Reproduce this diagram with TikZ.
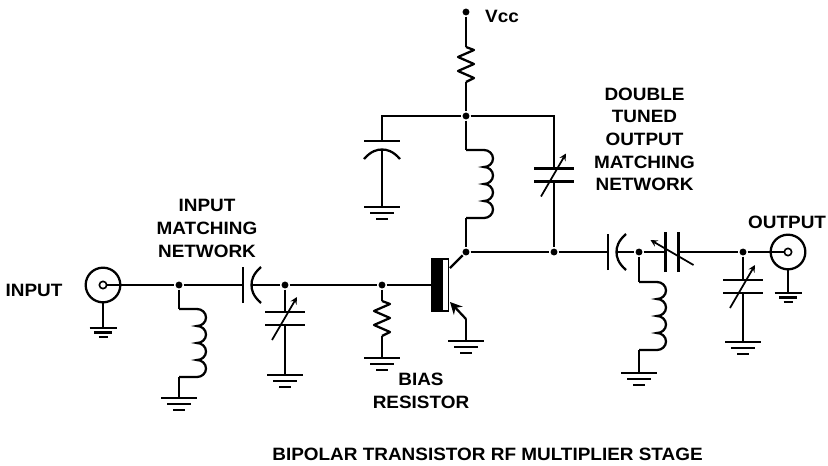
\documentclass[tikz,border=0pt]{standalone}
\usepackage{fontspec}
\setmainfont[FakeStretch=1.06]{Liberation Sans}
\usetikzlibrary{arrows,arrows.meta,calc,positioning}

\begin{document}
\begin{tikzpicture}[
  x=0.75pt, y=-0.75pt,
  line width=1.7pt,
  dot/.style={circle, fill=black, inner sep=0pt, minimum size=5.2pt},
  lab/.style={font=\bfseries\fontsize{13.4}{17}\selectfont, align=center, inner sep=0pt},
  jack/.style={circle, draw, inner sep=0pt, minimum size=26pt},
  jackpin/.style={circle, draw, line width=1.2pt, inner sep=0pt, minimum size=5.5pt},
  bar/.style={rectangle, draw, inner sep=0pt, outer sep=0pt, line width=1pt, minimum height=39pt},
  tune/.style={-stealth, line width=1.3pt},
  pics/gnd/.style={code={
    \coordinate (-top) at (0,0);
    \draw (-18,0) -- (18,0);
    \draw (-12,6) -- (12,6);
    \draw (-6,12) -- (6,12);
  }},
  pics/res/.style={code={
    \coordinate (-in) at (0,0);
    \coordinate (-out) at (0,35);
    \draw[line join=round] (0,0) -- (8,3) -- (-8,10) -- (8,17) -- (-8,24) -- (8,31) -- (0,35);
  }},
  pics/ind/.style={code={
    \coordinate (-in) at (0,0);
    \coordinate (-out) at (0,68);
    \draw (0,0) -- (18,0)
      arc[start angle=-90, end angle=90, x radius=9, y radius=8.5]
      arc[start angle=-90, end angle=90, x radius=9, y radius=8.5]
      arc[start angle=-90, end angle=90, x radius=9, y radius=8.5]
      arc[start angle=-90, end angle=90, x radius=9, y radius=8.5] -- (0,68);
  }},
  pics/fixcap/.style={code={
    \coordinate (-flat) at (0,0);
    \coordinate (-arc) at (0,8.5);
    \draw (-18,0) -- (18,0);
    \draw (-18,18) .. controls (-11,10) and (-5,8.5) .. (0,8.5) .. controls (5,8.5) and (11,10) .. (18,18);
  }},
  pics/varcap/.style={code={
    \coordinate (-top) at (0,-6.5);
    \coordinate (-bot) at (0,6.5);
    \draw (-20,-6.5) -- (20,-6.5);
    \draw (-20,6.5) -- (20,6.5);
    \draw[tune] (-13,21.5) -- (12,-21.5);
  }}
]
\useasboundingbox (0,0) rectangle (828,465);

% Junctions
\node[dot] (vcc) at (466,12) {};
\node[dot] (j1) at (179,285) {};
\node[dot] (j2) at (285,285) {};
\node[dot] (j3) at (382,285) {};
\node[dot] (j4) at (466,116) {};
\node[dot] (j5) at (466,252) {};
\node[dot] (j6) at (554,252) {};
\node[dot] (j7) at (639,252) {};
\node[dot] (j8) at (743,252) {};

% Input and output jacks
\node[jack] (injack) at (103,285) {};
\node[jackpin] (inpin) at (103,285) {};
\node[jack] (outjack) at (788,252) {};
\node[jackpin] (outpin) at (788,252) {};

% Transistor
\node[bar, fill=black, minimum width=7.5pt] (basebar) at (437,285) {};
\node[bar, fill=white, right=0pt of basebar, minimum width=5pt] (collbar) {};
\coordinate (cpin) at (450,268);
\coordinate (epin) at (450,302);
\coordinate (ebend) at (466,319);

% Components
\pic (lin) at (179,309) {ind};
\pic[rotate=90] (cin) at (243,285) {fixcap};
\pic (cv1) at (285,318.5) {varcap};
\pic (rb) at (382,301) {res};
\pic (rc) at (466,47) {res};
\pic (cby) at (382,141) {fixcap};
\pic (lc) at (466,150) {ind};
\pic (cv2) at (554,175) {varcap};
\pic[rotate=90] (cout) at (608,252) {fixcap};
\pic[rotate=90] (cv3) at (672,252) {varcap};
\pic (lout) at (639,282) {ind};
\pic (cv4) at (743,286.5) {varcap};

% Grounds
\pic[scale=0.75] (g1) at (103,328) {gnd};
\pic (g2) at (179,398) {gnd};
\pic (g3) at (285,375) {gnd};
\pic (g4) at (382,358) {gnd};
\pic (g5) at (382,207) {gnd};
\pic (g6) at (466,341) {gnd};
\pic (g7) at (639,373) {gnd};
\pic (g8) at (743,342) {gnd};
\pic[scale=0.75] (g9) at (788,293) {gnd};

% Wires - input side
\draw (inpin) -- (j1);
\draw (j1) -- (cin-flat);
\draw (cin-arc) -- (j2);
\draw (j2) -- (j3);
\draw (j3) -- (basebar.west);
\draw (injack) -- (g1-top);
\draw (j1) -- (lin-in);
\draw (lin-out) -- (g2-top);
\draw (j2) -- (cv1-top);
\draw (cv1-bot) -- (g3-top);
\draw (j3) -- (rb-in);
\draw (rb-out) -- (g4-top);

% Wires - supply
\draw (vcc) -- (rc-in);
\draw (rc-out) -- (j4);
\draw (cby-flat) |- (j4);
\draw (cby-arc) -- (g5-top);
\draw (j4) -- (lc-in);
\draw (lc-out) -- (j5);
\draw (j4) -| (cv2-top);
\draw (cv2-bot) -- (j6);

% Wires - transistor
\draw (cpin) -- (j5);
\draw[-{Stealth[length=9pt, width=9pt, inset=3pt]}] (ebend) -- (epin);
\draw (ebend) -- (g6-top);

% Wires - output side
\draw (j5) -- (j6);
\draw (j6) -- (cout-flat);
\draw (cout-arc) -- (j7);
\draw (j7) -- (cv3-top);
\draw (cv3-bot) -- (j8);
\draw (j8) -- (outpin);
\draw (j7) -- (lout-in);
\draw (lout-out) -- (g7-top);
\draw (j8) -- (cv4-top);
\draw (cv4-bot) -- (g8-top);
\draw (outjack) -- (g9-top);

% Labels
\node[lab] (inlab) at (34,290) {INPUT};
\node[lab] (inmatch) at (207,228.5) {INPUT\\MATCHING\\NETWORK};
\node[lab, anchor=west] (vcclab) at (484,16) {Vcc};
\node[lab] (outmatch) at (644.5,139.5) {DOUBLE\\TUNED\\OUTPUT\\MATCHING\\NETWORK};
\node[lab, anchor=west] (outlab) at (747,222) {OUTPUT};
\node[lab] (biaslab) at (421,391) {BIAS\\RESISTOR};
\node[lab] (title) at (487.5,454.5) {BIPOLAR TRANSISTOR RF MULTIPLIER STAGE};

\end{tikzpicture}
\end{document}
